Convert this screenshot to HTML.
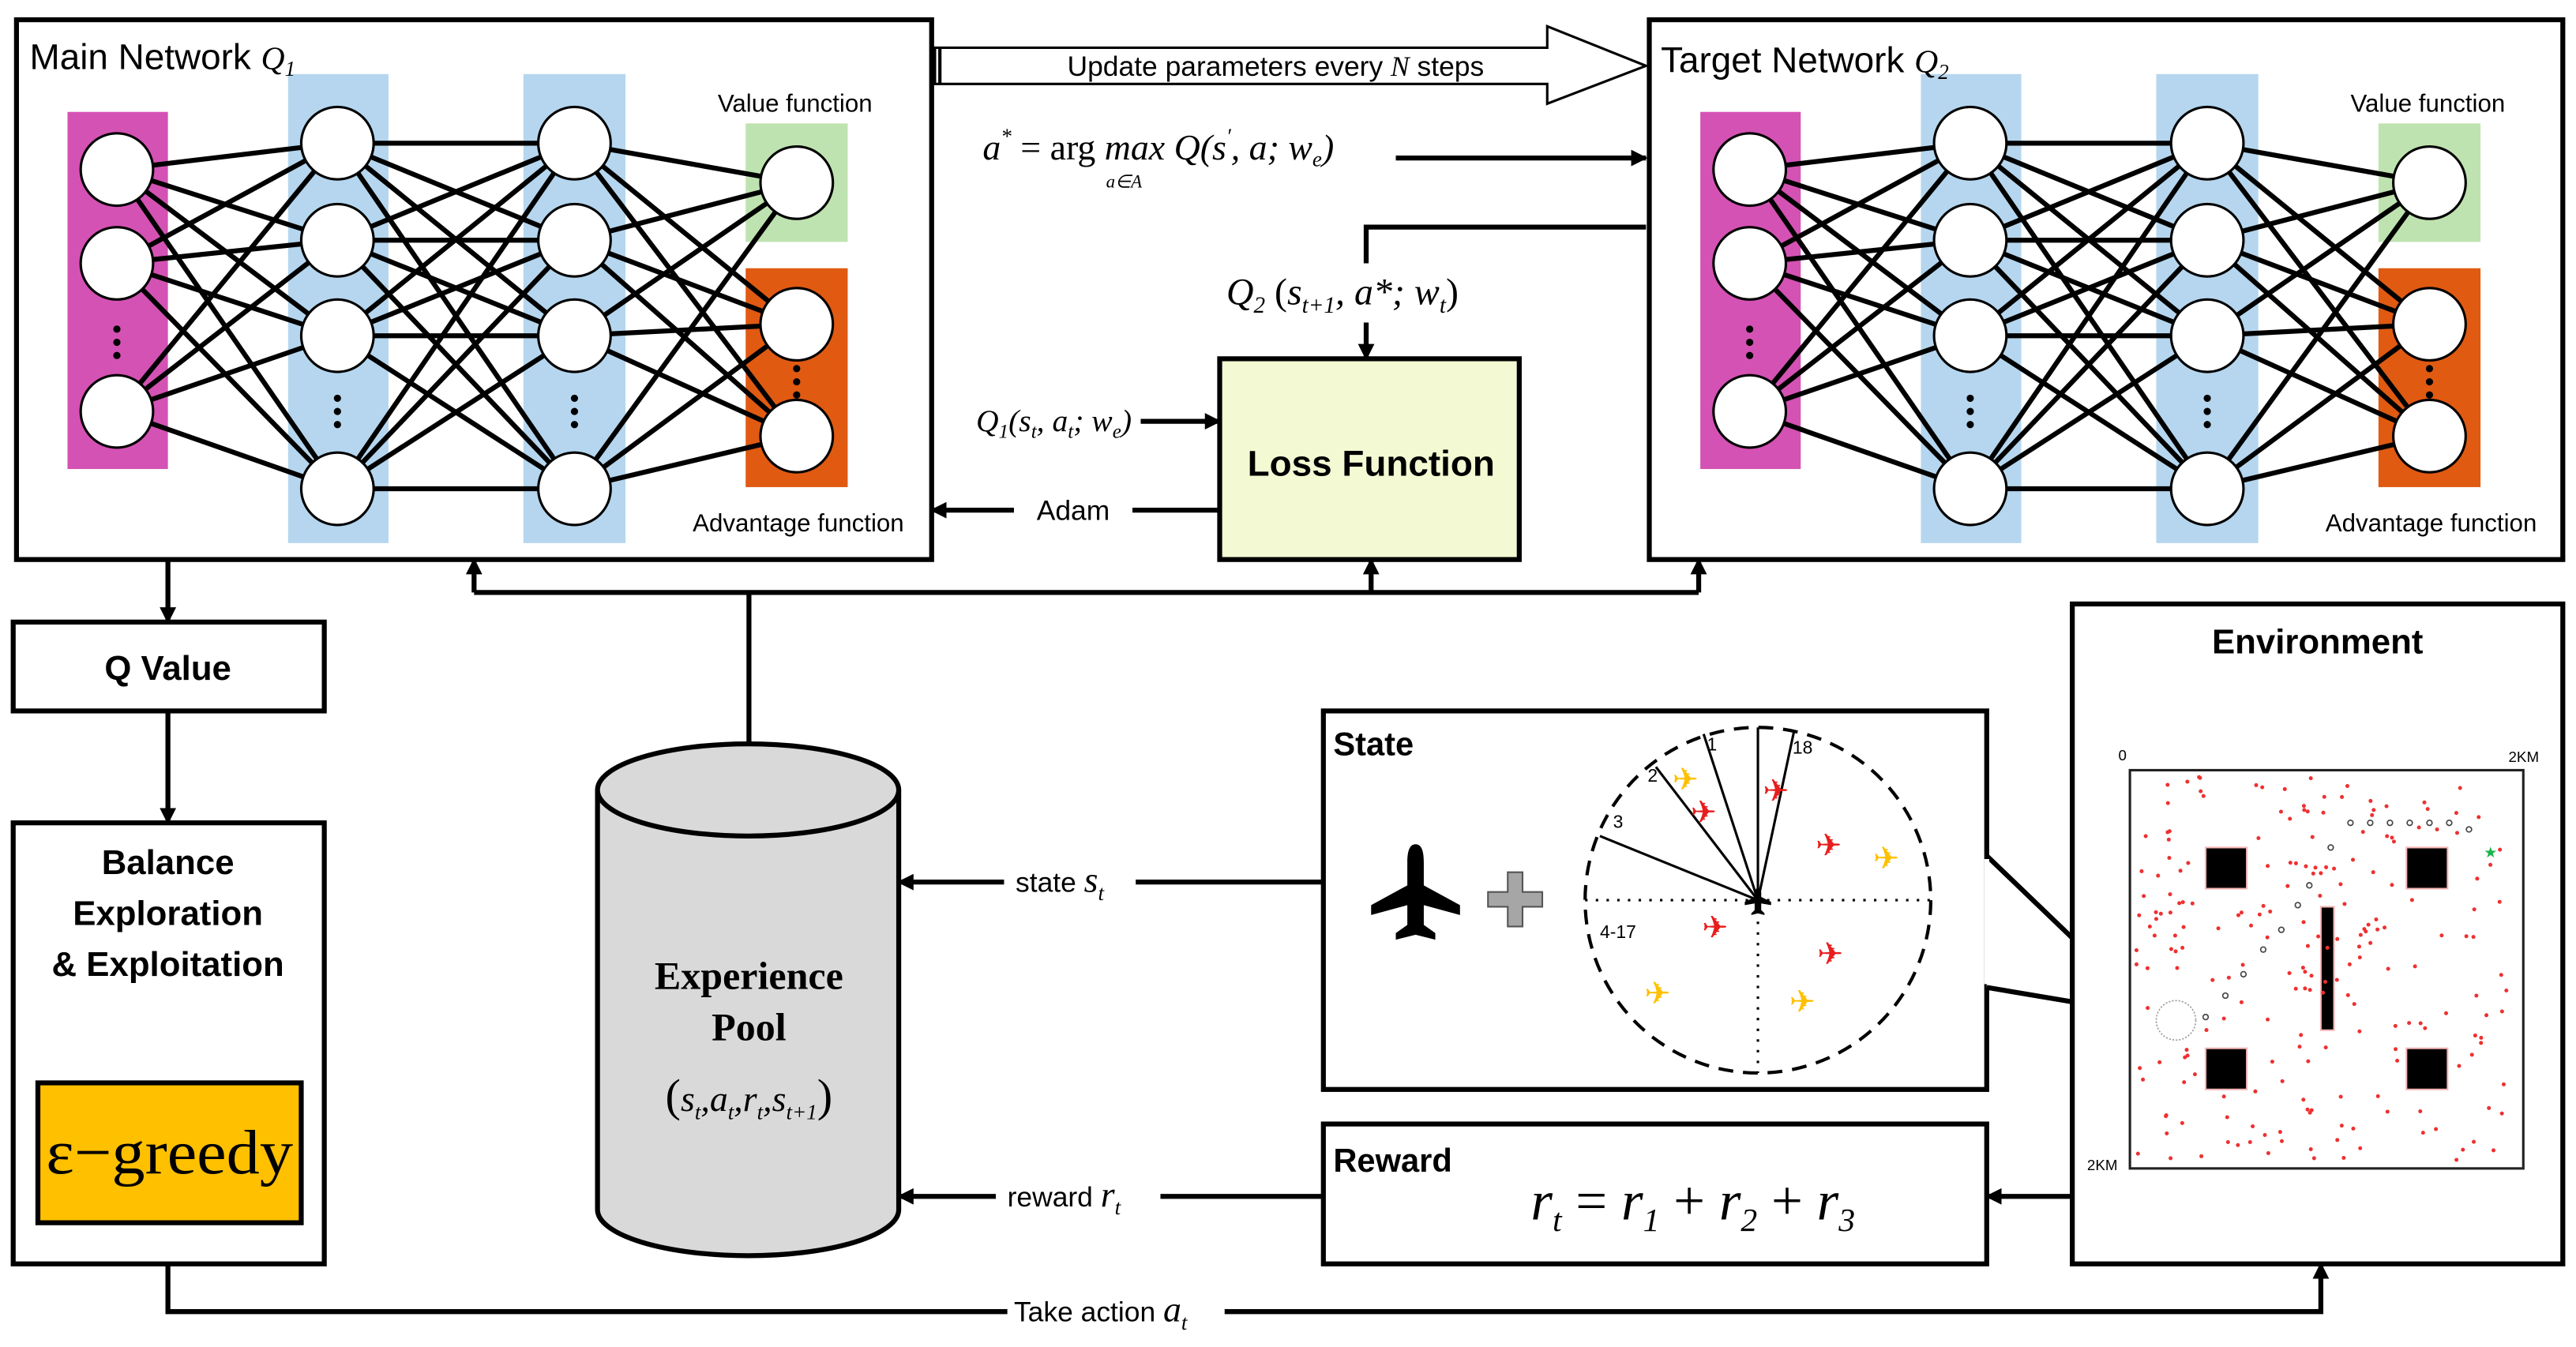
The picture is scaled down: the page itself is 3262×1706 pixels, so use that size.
<!DOCTYPE html>
<html><head><meta charset="utf-8">
<style>
html,body{margin:0;padding:0;background:#fff;}
svg{display:block;}
text{font-family:"Liberation Sans",sans-serif;}
.s{font-family:"Liberation Serif",serif;font-style:italic;}
</style></head>
<body>
<svg id="sv" width="3262" height="1706" viewBox="0 0 1565 818.5" xmlns="http://www.w3.org/2000/svg">
<defs>
<marker id="ar" markerWidth="10" markerHeight="10" refX="9" refY="5" orient="auto" markerUnits="userSpaceOnUse">
<path d="M0,0 L10,5 L0,10 z" fill="#000"/></marker>
<g id="net">
<rect x="41" y="68" width="61" height="217" fill="#d452b4"/>
<rect x="175" y="45" width="61" height="285" fill="#b5d6ee"/>
<rect x="318" y="45" width="62" height="285" fill="#b5d6ee"/>
<rect x="453" y="75" width="62" height="72" fill="#bfe3b0"/>
<rect x="453" y="163" width="62" height="133" fill="#e05a12"/>
<g id="edges" stroke="#000" stroke-width="3"></g>
<g id="nodes" fill="#fff" stroke="#000" stroke-width="1.5"></g>
<g fill="#000">
<circle cx="71" cy="200" r="2.2"/><circle cx="71" cy="208" r="2.2"/><circle cx="71" cy="216" r="2.2"/>
<circle cx="205" cy="242" r="2.2"/><circle cx="205" cy="250" r="2.2"/><circle cx="205" cy="258" r="2.2"/>
<circle cx="349" cy="242" r="2.2"/><circle cx="349" cy="250" r="2.2"/><circle cx="349" cy="258" r="2.2"/>
<circle cx="484" cy="224" r="2.2"/><circle cx="484" cy="232" r="2.2"/><circle cx="484" cy="240" r="2.2"/>
</g>
<text x="483" y="68" font-size="15" text-anchor="middle">Value function</text>
<text x="485" y="323" font-size="15" text-anchor="middle">Advantage function</text>
</g>
</defs>

<rect x="10" y="12" width="556" height="328" fill="none" stroke="#000" stroke-width="3"/>
<use href="#net"/>
<text x="18" y="42" font-size="22">Main Network <tspan class="s" font-size="20">Q</tspan><tspan class="s" font-size="13" dy="4">1</tspan></text>

<rect x="1002" y="12" width="555" height="328" fill="none" stroke="#000" stroke-width="3"/>
<use href="#net" transform="translate(992,0)"/>
<text x="1009" y="44" font-size="22">Target Network <tspan class="s" font-size="20">Q</tspan><tspan class="s" font-size="13" dy="4">2</tspan></text>

<path d="M568,29 L940,29 L940,16 L1000,40 L940,63 L940,51 L568,51 Z" fill="#fff" stroke="#000" stroke-width="1.5"/>
<line x1="571" y1="29" x2="571" y2="51" stroke="#000" stroke-width="2"/>
<text x="775" y="46" font-size="17" text-anchor="middle">Update parameters every <tspan class="s">N</tspan>  steps</text>

<text x="597" y="97" font-size="22" class="s">a<tspan font-size="13" dy="-10">*</tspan><tspan dy="10" font-style="normal"> = arg</tspan> max Q(s<tspan font-size="13" dy="-10">′</tspan><tspan dy="10">, a; w</tspan><tspan font-size="13" dy="4">e</tspan><tspan dy="-4">)</tspan></text>
<text x="672" y="114" font-size="11" class="s">a∈A</text>
<line x1="848" y1="96" x2="1000" y2="96" stroke="#000" stroke-width="3" marker-end="url(#ar)"/>

<polyline points="1000,138 830,138 830,160" fill="none" stroke="#000" stroke-width="3"/>
<text x="745" y="185" font-size="23" class="s">Q<tspan font-size="14" dy="5">2</tspan><tspan dy="-5" font-style="normal"> (</tspan>s<tspan font-size="14" dy="5">t+1</tspan><tspan dy="-5">, a*; w</tspan><tspan font-size="14" dy="5">t</tspan><tspan dy="-5" font-style="normal">)</tspan></text>
<line x1="830" y1="196" x2="830" y2="218" stroke="#000" stroke-width="3" marker-end="url(#ar)"/>

<rect x="741" y="218" width="182" height="122" fill="#f3f9d2" stroke="#000" stroke-width="3"/>
<text x="833" y="289" font-size="22" font-weight="bold" text-anchor="middle">Loss Function</text>
<text x="593" y="262" font-size="19" class="s">Q<tspan font-size="12" dy="4">1</tspan><tspan dy="-4">(s</tspan><tspan font-size="12" dy="4">t</tspan><tspan dy="-4">, a</tspan><tspan font-size="12" dy="4">t</tspan><tspan dy="-4">; w</tspan><tspan font-size="12" dy="4">e</tspan><tspan dy="-4">)</tspan></text>
<line x1="693" y1="256" x2="741" y2="256" stroke="#000" stroke-width="3" marker-end="url(#ar)"/>
<line x1="741" y1="310" x2="688" y2="310" stroke="#000" stroke-width="3"/>
<text x="652" y="316" font-size="17" text-anchor="middle">Adam</text>
<line x1="616" y1="310" x2="566" y2="310" stroke="#000" stroke-width="3" marker-end="url(#ar)"/>

<polyline points="455,452 455,360" fill="none" stroke="#000" stroke-width="3"/>
<line x1="288" y1="360" x2="1032" y2="360" stroke="#000" stroke-width="3"/>
<line x1="288" y1="360" x2="288" y2="340" stroke="#000" stroke-width="3" marker-end="url(#ar)"/>
<line x1="833" y1="360" x2="833" y2="340" stroke="#000" stroke-width="3" marker-end="url(#ar)"/>
<line x1="1032" y1="360" x2="1032" y2="340" stroke="#000" stroke-width="3" marker-end="url(#ar)"/>

<line x1="102" y1="340" x2="102" y2="378" stroke="#000" stroke-width="3" marker-end="url(#ar)"/>
<rect x="8" y="378" width="189" height="54" fill="#fff" stroke="#000" stroke-width="3"/>
<text x="102" y="413" font-size="21" font-weight="bold" text-anchor="middle">Q Value</text>
<line x1="102" y1="432" x2="102" y2="500" stroke="#000" stroke-width="3" marker-end="url(#ar)"/>

<rect x="8" y="500" width="189" height="268" fill="#fff" stroke="#000" stroke-width="3"/>
<text x="102" y="531" font-size="21" font-weight="bold" text-anchor="middle">Balance</text>
<text x="102" y="562" font-size="21" font-weight="bold" text-anchor="middle">Exploration</text>
<text x="102" y="593" font-size="21" font-weight="bold" text-anchor="middle">&amp; Exploitation</text>
<rect x="23" y="658" width="160" height="85" fill="#ffc000" stroke="#000" stroke-width="3"/>
<text x="103" y="713" font-size="38" text-anchor="middle" textLength="150" lengthAdjust="spacingAndGlyphs" style="font-family:'Liberation Serif',serif">ε−greedy</text>

<path d="M363,480 L363,735 A91.5,28 0 0 0 546,735 L546,480" fill="#d9d9d9" stroke="#000" stroke-width="3"/>
<ellipse cx="454.5" cy="480" rx="91.5" ry="28" fill="#d9d9d9" stroke="#000" stroke-width="3"/>
<text x="455" y="601" font-size="24" font-weight="bold" text-anchor="middle" style="font-family:'Liberation Serif',serif">Experience</text>
<text x="455" y="632" font-size="24" font-weight="bold" text-anchor="middle" style="font-family:'Liberation Serif',serif">Pool</text>
<text x="455" y="675" font-size="22" text-anchor="middle" class="s"><tspan font-style="normal" font-size="28">(</tspan>s<tspan font-size="13" dy="5">t</tspan><tspan dy="-5">,a</tspan><tspan font-size="13" dy="5">t</tspan><tspan dy="-5">,r</tspan><tspan font-size="13" dy="5">t</tspan><tspan dy="-5">,s</tspan><tspan font-size="13" dy="5">t+1</tspan><tspan dy="-5" font-style="normal" font-size="28">)</tspan></text>

<rect x="804" y="432" width="403" height="230" fill="#fff" stroke="#000" stroke-width="3"/>
<text x="810" y="459" font-size="20" font-weight="bold">State</text>
<line x1="804" y1="536" x2="690" y2="536" stroke="#000" stroke-width="3"/>
<text x="617" y="542" font-size="17">state <tspan class="s" font-size="22">s</tspan><tspan class="s" font-size="13" dy="5">t</tspan></text>
<line x1="610" y1="536" x2="546" y2="536" stroke="#000" stroke-width="3" marker-end="url(#ar)"/>
<!-- airplane pointing up -->
<path d="M860,513 C864,513 865,518 865,524 L865,538 L887,550 L887,556 L865,550 L865,562 L872,567 L872,571 L860,568 L848,571 L848,567 L855,562 L855,550 L833,556 L833,550 L855,538 L855,524 C855,518 856,513 860,513 Z" fill="#000"/>
<path d="M916,530 h9 v12 h12 v9 h-12 v12 h-9 v-12 h-12 v-9 h12 z" fill="#a6a6a6" stroke="#555" stroke-width="1"/>
<g id="radar">
<circle cx="1068" cy="547" r="105" fill="none" stroke="#000" stroke-width="2" stroke-dasharray="9,6"/>
<line x1="963" y1="547" x2="1173" y2="547" stroke="#000" stroke-width="1.5" stroke-dasharray="1.5,5"/>
<line x1="1068" y1="547" x2="1068" y2="652" stroke="#000" stroke-width="1.5" stroke-dasharray="1.5,5"/>
<g stroke="#000" stroke-width="1.5">
<line x1="1068" y1="547" x2="1068" y2="442"/>
<line x1="1068" y1="547" x2="1035" y2="446"/>
<line x1="1068" y1="547" x2="1006" y2="466"/>
<line x1="1068" y1="547" x2="1090" y2="444"/>
<line x1="1068" y1="547" x2="972" y2="508"/>
</g>
<path d="M1068,538 l2,4 v3 l6,3 v2 l-6,-1 v4 l2,2 v1 l-4,-1 l-4,1 v-1 l2,-2 v-4 l-6,1 v-2 l6,-3 v-3 z" fill="#000"/>
<text x="1037" y="456" font-size="11">1</text>
<text x="1089" y="458" font-size="11">18</text>
<text x="1001" y="475" font-size="11">2</text>
<text x="980" y="503" font-size="11">3</text>
<text x="972" y="570" font-size="11">4-17</text>
<g font-size="19" text-anchor="middle">
<text x="1024" y="480" fill="#ffc000">✈</text>
<text x="1035" y="500" fill="#e81d1d">✈</text>
<text x="1079" y="487" fill="#e81d1d">✈</text>
<text x="1111" y="520" fill="#e81d1d">✈</text>
<text x="1146" y="528" fill="#ffc000">✈</text>
<text x="1042" y="570" fill="#e81d1d">✈</text>
<text x="1112" y="586" fill="#e81d1d">✈</text>
<text x="1007" y="610" fill="#ffc000">✈</text>
<text x="1095" y="615" fill="#ffc000">✈</text>
</g>
</g>
<polyline points="1207,520 1308,617 1207,600" fill="#fff" stroke="#000" stroke-width="3"/>
<line x1="1207" y1="522" x2="1207" y2="598" stroke="#fff" stroke-width="3"/>

<rect x="804" y="683" width="403" height="85" fill="#fff" stroke="#000" stroke-width="3"/>
<text x="810" y="712" font-size="20" font-weight="bold">Reward</text>
<text x="930" y="741" font-size="34" class="s">r<tspan font-size="20" dy="7">t</tspan><tspan dy="-7" font-style="normal"> = </tspan>r<tspan font-size="20" dy="7">1</tspan><tspan dy="-7" font-style="normal"> + </tspan>r<tspan font-size="20" dy="7">2</tspan><tspan dy="-7" font-style="normal"> + </tspan>r<tspan font-size="20" dy="7">3</tspan></text>
<line x1="804" y1="727" x2="705" y2="727" stroke="#000" stroke-width="3"/>
<text x="612" y="733" font-size="17">reward <tspan class="s" font-size="22">r</tspan><tspan class="s" font-size="13" dy="5">t</tspan></text>
<line x1="605" y1="727" x2="546" y2="727" stroke="#000" stroke-width="3" marker-end="url(#ar)"/>

<rect x="1259" y="367" width="298" height="401" fill="#fff" stroke="#000" stroke-width="3"/>
<text x="1408" y="397" font-size="21" font-weight="bold" text-anchor="middle">Environment</text>
<text x="1287" y="462" font-size="9">0</text>
<text x="1524" y="463" font-size="9">2KM</text>
<text x="1268" y="711" font-size="9">2KM</text>
<rect x="1294" y="468" width="239" height="242" fill="#fff" stroke="#222" stroke-width="1.5"/>
<g fill="#000" stroke="#f4b5b5" stroke-width="1">
<rect x="1340" y="515" width="25" height="25"/>
<rect x="1462" y="515" width="25" height="25"/>
<rect x="1340" y="637" width="25" height="25"/>
<rect x="1462" y="637" width="25" height="25"/>
<rect x="1410" y="551" width="8" height="75"/>
</g>
<g id="dots" fill="#ee3030"></g>
<g fill="none" stroke="#444" stroke-width="0.8">
<circle cx="1428" cy="500" r="1.6"/><circle cx="1440" cy="500" r="1.6"/><circle cx="1452" cy="500" r="1.6"/><circle cx="1464" cy="500" r="1.6"/><circle cx="1476" cy="500" r="1.6"/><circle cx="1488" cy="500" r="1.6"/><circle cx="1500" cy="504" r="1.6"/>
<circle cx="1416" cy="515" r="1.6"/><circle cx="1403" cy="538" r="1.6"/><circle cx="1396" cy="550" r="1.6"/><circle cx="1386" cy="565" r="1.6"/><circle cx="1375" cy="577" r="1.6"/><circle cx="1363" cy="592" r="1.6"/><circle cx="1352" cy="605" r="1.6"/><circle cx="1340" cy="618" r="1.6"/>
<circle cx="1322" cy="620" r="12" stroke="#999" stroke-dasharray="1,1"/>
</g>
<text x="1509" y="521" font-size="9" fill="#19b34a">★</text>

<polyline points="102,768 102,797 612,797" fill="none" stroke="#000" stroke-width="3"/>
<text x="616" y="803" font-size="17">Take action <tspan class="s" font-size="22">a</tspan><tspan class="s" font-size="13" dy="5">t</tspan></text>
<polyline points="744,797 1410,797 1410,768" fill="none" stroke="#000" stroke-width="3" marker-end="url(#ar)"/>
<line x1="1259" y1="727" x2="1207" y2="727" stroke="#000" stroke-width="3" marker-end="url(#ar)"/>

<script>
(function(){
var NS="http://www.w3.org/2000/svg";
var L=[[71,[103,160,250]],[205,[87,146,204,297]],[349,[87,146,204,297]]];
var e=document.getElementById('edges'),n=document.getElementById('nodes');
function ln(x1,y1,x2,y2){var l=document.createElementNS(NS,'line');l.setAttribute('x1',x1);l.setAttribute('y1',y1);l.setAttribute('x2',x2);l.setAttribute('y2',y2);e.appendChild(l);}
function cc(x,y){var c=document.createElementNS(NS,'circle');c.setAttribute('cx',x);c.setAttribute('cy',y);c.setAttribute('r',22);n.appendChild(c);}
for(var i=0;i<2;i++){L[i][1].forEach(function(a){L[i+1][1].forEach(function(b){ln(L[i][0],a,L[i+1][0],b);});});}
var outs=[111,197,265];
L[2][1].forEach(function(a){outs.forEach(function(b){ln(349,a,484,b);});});
L.forEach(function(c){c[1].forEach(function(y){cc(c[0],y);});});
outs.forEach(function(y){cc(484,y);});
var d=document.getElementById('dots'),s=7;
function r(){s=(s*9301+49297)%233280;return s/233280;}
for(var k=0;k<230;k++){var x=1298+r()*231,y=472+r()*234;
if((x>1336&&x<1369&&(y>511&&y<544||y>633&&y<666))||(x>1458&&x<1491&&(y>511&&y<544||y>633&&y<666)))continue;
var c=document.createElementNS(NS,'circle');c.setAttribute('cx',x.toFixed(1));c.setAttribute('cy',y.toFixed(1));c.setAttribute('r',1.2);d.appendChild(c);}
})();
</script>
</svg>
</body></html>
